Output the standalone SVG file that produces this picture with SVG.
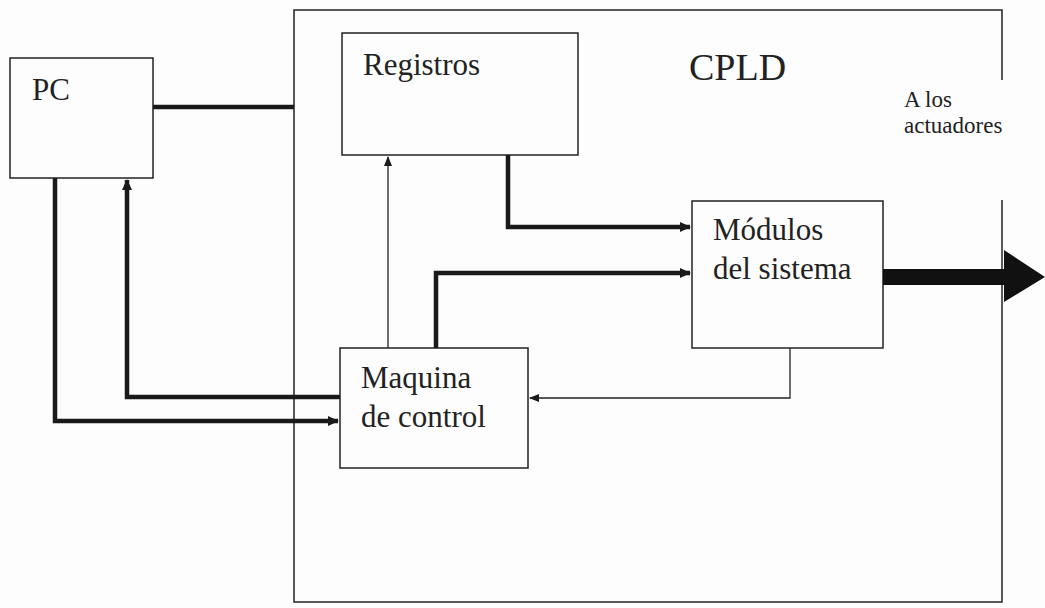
<svg xmlns="http://www.w3.org/2000/svg" width="1045" height="608" viewBox="0 0 1045 608">
<style>
.box{fill:none;stroke:#222;stroke-width:1.5}
.t{font-family:"Liberation Serif","Times New Roman","DejaVu Serif",serif;fill:#222;font-size:31px}
.thin{fill:none;stroke:#222;stroke-width:1.3}
.thick{fill:none;stroke:#1a1a1a;stroke-width:4.5}
</style>
<defs>
<marker id="ah" markerWidth="11" markerHeight="10" refX="10" refY="5" orient="auto" markerUnits="userSpaceOnUse" viewBox="0 0 11 10"><path d="M0,0 L11,5 L0,10 Z" fill="#1a1a1a"/></marker>
<marker id="ahs" markerWidth="10" markerHeight="10" refX="9" refY="5" orient="auto" markerUnits="userSpaceOnUse" viewBox="0 0 10 10"><path d="M0,1 L10,5 L0,9 Z" fill="#1a1a1a"/></marker>
</defs>
<rect width="1045" height="608" fill="#fdfdfd"/>
<g id="cpld">
<path class="box" d="M1002,80 L1002,10 L294,10 L294,602 L1002,602 L1002,200"/>
<text class="t" x="689" y="80" style="font-size:38px">CPLD</text>
</g>
<g id="pc">
<rect class="box" x="10" y="58" width="143" height="120"/>
<text class="t" x="32" y="100">PC</text>
</g>
<g id="registros">
<rect class="box" x="342" y="33" width="236" height="122"/>
<text class="t" x="363" y="75">Registros</text>
</g>
<g id="modulos">
<rect class="box" x="692" y="201" width="191" height="147"/>
<text class="t" x="713" y="240">Módulos</text>
<text class="t" x="713" y="279">del sistema</text>
</g>
<g id="maquina">
<rect class="box" x="340" y="348" width="188" height="120"/>
<text class="t" x="361" y="388">Maquina</text>
<text class="t" x="361" y="427">de control</text>
</g>
<g id="actuadores-label">
<text class="t" x="904" y="107" style="font-size:23px">A los</text>
<text class="t" x="904" y="133" style="font-size:23px">actuadores</text>
</g>
<g id="connectors">
<path class="thick" d="M153,107 L294,107"/>
<path class="thick" d="M340,397 L127,397 L127,180" marker-end="url(#ah)"/>
<path class="thick" d="M55,178 L55,421 L338,421" marker-end="url(#ah)"/>
<path class="thin" d="M388,348 L388,157" marker-end="url(#ahs)"/>
<path class="thick" d="M508,155 L508,227 L690,227" marker-end="url(#ah)"/>
<path class="thick" d="M436,348 L436,273 L690,273" marker-end="url(#ah)"/>
<path class="thin" d="M790,348 L790,398 L530,398" marker-end="url(#ahs)"/>
<path d="M883,269 L1004,269 L1004,250 L1045,277 L1004,302 L1004,285 L883,285 Z" fill="#111"/>
</g>
</svg>
